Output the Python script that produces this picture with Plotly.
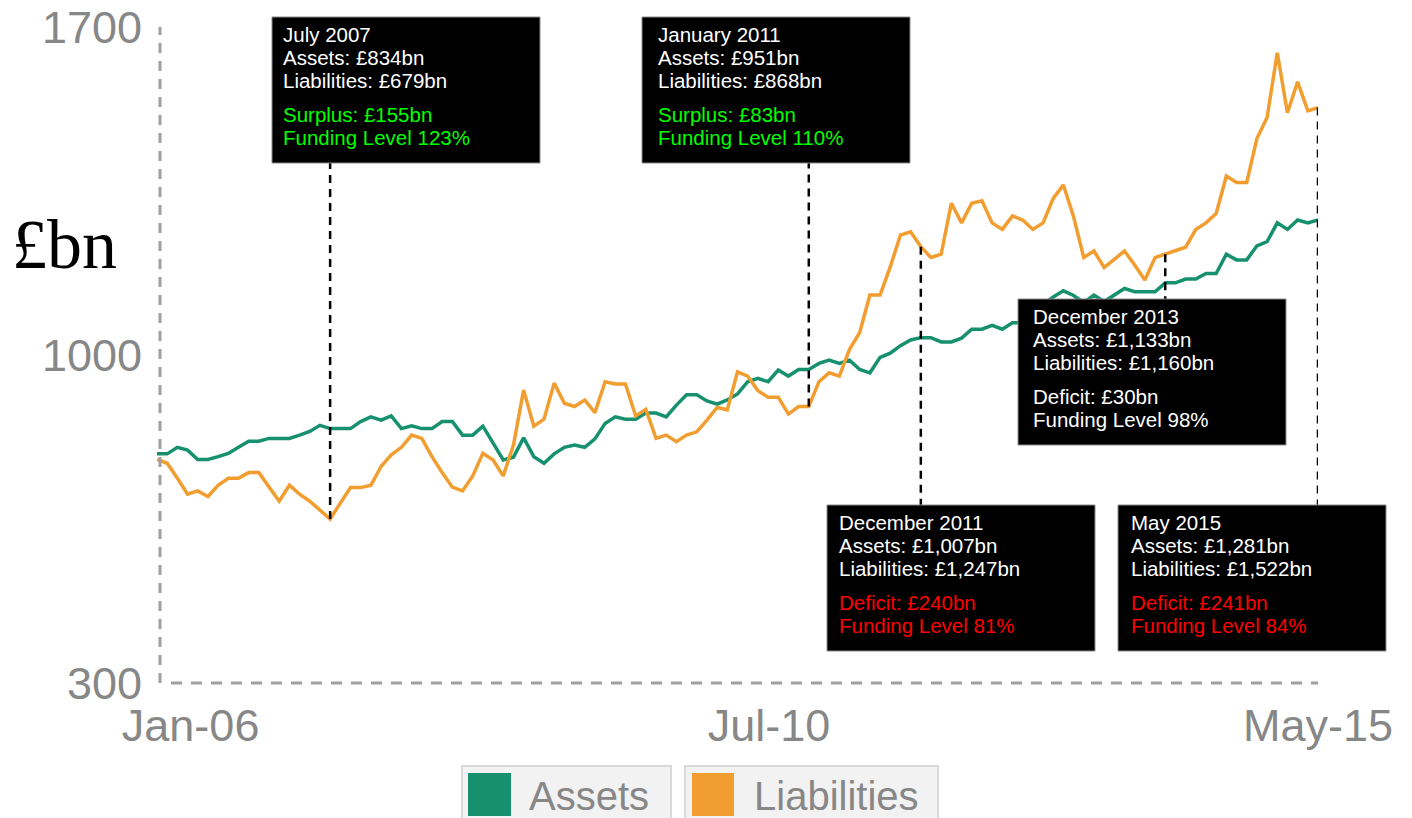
import plotly.graph_objects as go

# ---------------- data ----------------
assets = [
    789, 789, 803, 797, 777, 777, 783, 790, 803, 816,
    816, 822, 822, 822, 829, 837, 850, 843, 843, 843,
    858, 868, 861, 870, 843, 849, 843, 843, 858, 858,
    829, 829, 848, 811, 776, 782, 823, 783, 769, 789,
    803, 808, 803, 821, 854, 868, 863, 863, 876, 876,
    868, 893, 915, 915, 902, 895, 904, 917, 943, 950,
    943, 968, 955, 969, 969, 982, 989, 982, 989, 969,
    962, 995, 1004, 1020, 1032, 1037, 1037, 1028, 1028, 1036,
    1055, 1055, 1063, 1055, 1069, 1069, 1090, 1108, 1124, 1137,
    1127, 1112, 1128, 1114, 1128, 1142, 1135, 1135, 1135, 1154,
    1154, 1162, 1162, 1174, 1174, 1215, 1203, 1203, 1233, 1242,
    1282, 1268, 1288, 1282, 1288,
]
liabilities = [
    777, 769, 737, 703, 710, 698, 722, 737, 737, 749,
    749, 719, 688, 722, 703, 688, 668, 650, 684, 717,
    717, 722, 762, 787, 803, 829, 822, 783, 749, 718,
    710, 742, 790, 776, 742, 808, 925, 848, 863, 940,
    897, 890, 904, 877, 943, 938, 938, 870, 884, 822,
    829, 815, 829, 836, 861, 888, 883, 964, 955, 924,
    910, 910, 874, 890, 890, 943, 962, 955, 1012, 1048,
    1128, 1128, 1188, 1256, 1263, 1231, 1208, 1215, 1324, 1282,
    1324, 1329, 1282, 1268, 1297, 1288, 1268, 1282, 1334, 1363,
    1295, 1208, 1222, 1187, 1204, 1222, 1192, 1160, 1208, 1215,
    1222, 1230, 1268, 1282, 1302, 1382, 1368, 1368, 1462, 1507,
    1645, 1517, 1583, 1521, 1528,
]
series_names = ["Assets", "Liabilities"]
x_tick_labels = ["Jan-06", "Jul-10", "May-15"]
y_tick_values = [300, 1000, 1700]
y_title = "£bn"

callout_dates = ["July 2007", "January 2011", "December 2011", "December 2013", "May 2015"]
callout_assets = ["£834bn", "£951bn", "£1,007bn", "£1,133bn", "£1,281bn"]
callout_liabilities = ["£679bn", "£868bn", "£1,247bn", "£1,160bn", "£1,522bn"]
callout_balance = ["Surplus: £155bn", "Surplus: £83bn", "Deficit: £240bn", "Deficit: £30bn", "Deficit: £241bn"]
callout_funding = ["123%", "110%", "81%", "98%", "84%"]
callout_point = [17, 64, 75, 99, 114]          # position of the month in the series

# ---------------- styling / layout ----------------
GREEN = "#16906f"
ORANGE = "#f29d2f"
GREY = "#878787"
SANS = "Liberation Sans, Arial, sans-serif"
W, H = 1412, 818
L, R, T, B = 157, 94, 27, 135
PW, PH = W - L - R, H - T - B
Y0 = H - B  # pixel row of the x axis


def px_x(p):
    return (p - L) / PW


def px_y(p):
    return (Y0 - p) / PH


def px_val(p):
    lo, hi = y_tick_values[0], y_tick_values[-1]
    return lo + (Y0 - p) / PH * (hi - lo)


n = len(assets)
xs = list(range(n))

fig = go.Figure()
fig.add_trace(go.Scatter(x=xs, y=assets, mode="lines", name=series_names[0],
                         line=dict(color=GREEN, width=3.5), showlegend=False))
fig.add_trace(go.Scatter(x=xs, y=liabilities, mode="lines", name=series_names[1],
                         line=dict(color=ORANGE, width=3.5), showlegend=False))

shapes = []
annotations = []

# dashed axis lines
shapes.append(dict(type="line", xref="paper", yref="paper", x0=px_x(160), x1=px_x(160),
                   y0=0, y1=1, line=dict(color="#a0a0a0", width=3, dash="10px,8px")))
shapes.append(dict(type="line", xref="paper", yref="paper", x0=px_x(171), x1=px_x(1318),
                   y0=0, y1=0, line=dict(color="#a0a0a0", width=3, dash="11px,9px")))

# call-out boxes: (left, top) in pixels, text padding
box_pos = [(272, 17, 10), (642, 17, 15), (827, 505, 11), (1018, 299, 14), (1118, 505, 12)]
balance_colors = ["#00ff00", "#00ff00", "#ff0000", "#ffffff", "#ff0000"]
BOX_W, BOX_H = 268, 146
FS = 20.5
baselines = [25, 48, 71, 105, 128]

for i, (bx, by, pad) in enumerate(box_pos):
    idx = callout_point[i]
    above = by + BOX_H < 200
    edge = by + BOX_H if above else by
    shapes.append(dict(type="line", xref="x", yref="y", x0=idx, x1=idx,
                       y0=liabilities[idx], y1=px_val(edge),
                       line=dict(color="black", width=2.5, dash="8px,6px")))
    shapes.append(dict(type="rect", xref="paper", yref="paper",
                       x0=px_x(bx), x1=px_x(bx + BOX_W), y0=px_y(by + BOX_H), y1=px_y(by),
                       fillcolor="black", line=dict(color="#8a8a8a", width=1)))
    texts = [callout_dates[i], "Assets: " + callout_assets[i],
             "Liabilities: " + callout_liabilities[i], callout_balance[i],
             "Funding Level " + callout_funding[i]]
    cols = ["#ffffff"] * 3 + [balance_colors[i]] * 2
    for t, c, bl in zip(texts, cols, baselines):
        annotations.append(dict(text=t, xref="paper", yref="paper", showarrow=False,
                                x=px_x(bx + pad), y=px_y(by + bl - 0.3465 * FS),
                                xanchor="left", yanchor="middle", borderpad=0,
                                font=dict(family=SANS, size=FS, color=c)))

# y title
annotations.append(dict(text=y_title, xref="paper", yref="paper", showarrow=False,
                        x=px_x(10), y=px_y(268 - 0.3375 * 70), xanchor="left", yanchor="middle",
                        font=dict(family="Liberation Serif, Times New Roman, serif", size=70,
                                  color="black")))

# legend (drawn as boxes)
legend_pos = [(462, 671, 468, 511, 527), (685, 938, 692, 734, 752)]
for (b0, b1, s0, s1, tx), name, col in zip(legend_pos, series_names, [GREEN, ORANGE]):
    shapes.append(dict(type="rect", xref="paper", yref="paper", x0=px_x(b0), x1=px_x(b1),
                       y0=px_y(822), y1=px_y(766), fillcolor="#f2f2f2",
                       line=dict(color="#dadada", width=2)))
    shapes.append(dict(type="rect", xref="paper", yref="paper", x0=px_x(s0), x1=px_x(s1),
                       y0=px_y(816), y1=px_y(773), fillcolor=col, line=dict(width=0)))
    annotations.append(dict(text=name, xref="paper", yref="paper", showarrow=False,
                            x=px_x(tx), y=px_y(810 - 0.3465 * 40), xanchor="left",
                            yanchor="middle", font=dict(family=SANS, size=40, color=GREY)))

fig.update_layout(
    width=W, height=H,
    margin=dict(l=L, r=R, t=T, b=B, pad=0, autoexpand=False),
    paper_bgcolor="white", plot_bgcolor="white",
    showlegend=False,
    shapes=shapes, annotations=annotations,
    xaxis=dict(range=[0, n - 1], showgrid=False, zeroline=False, showline=False,
               automargin=False,
               tickmode="array", tickvals=[3.3, 60.1, n - 1], ticktext=x_tick_labels,
               tickfont=dict(family=SANS, size=45, color=GREY), ticks="",
               ticklabelstandoff=12),
    yaxis=dict(range=[y_tick_values[0], y_tick_values[-1]], showgrid=False, zeroline=False,
               showline=False, automargin=False, tickmode="array", tickvals=y_tick_values,
               tickfont=dict(family=SANS, size=45, color=GREY), ticks="",
               ticklabelstandoff=14),
)

fig.write_html("out.html")
